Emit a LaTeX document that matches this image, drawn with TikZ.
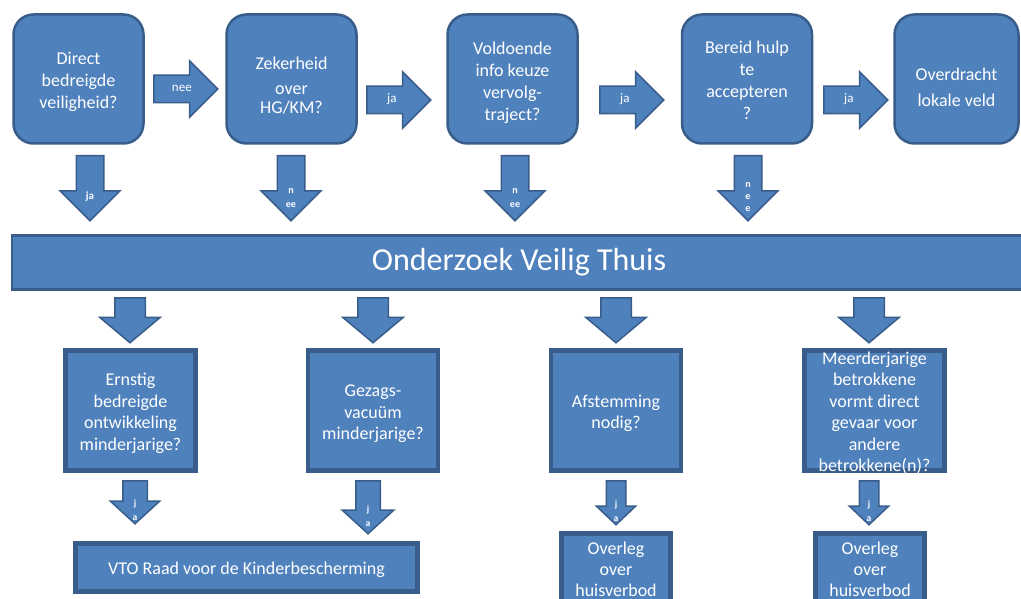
\documentclass[tikz,border=0pt]{standalone}
\usepackage{fontspec}
\setmainfont{Carlito}
\usetikzlibrary{shapes.arrows}

\definecolor{boxblue}{HTML}{4F81BD}
\definecolor{boxline}{HTML}{385D8A}

% centred lines of text, lowered by #1
\newcommand\tekst[2]{\makebox[0pt]{\raisebox{-#1}[0pt][0pt]{\begin{tabular}{@{}c@{}}#2\end{tabular}}}}
\tikzset{
	topbox/.style={draw=boxline,line width=2.5pt,fill=boxblue,rounded corners=20pt,minimum width=130pt,minimum height=129pt,text=white,font=\fontsize{18}{22}\selectfont},
	midbox/.style={draw=boxline,line width=4.5pt,fill=boxblue,minimum width=130pt,minimum height=120pt,text=white,font=\fontsize{18}{21.4}\selectfont},
	blockarrow/.style={single arrow,draw=boxline,line width=1.5pt,fill=boxblue,text=white,inner sep=0pt,anchor=tail,single arrow head indent=0pt},
	rightarrow/.style={blockarrow,inner ysep=13pt,minimum height=64pt,minimum width=55pt,single arrow head extend=14.5pt,single arrow tip angle=90,font=\fontsize{13}{14}\selectfont},
	downarrow/.style={blockarrow,shape border rotate=270,inner xsep=13pt,minimum height=65pt,minimum width=58pt,single arrow head extend=16pt,single arrow tip angle=90,font=\fontsize{10}{14}\bfseries},
	smallarrow/.style={downarrow,inner xsep=11.5pt,minimum height=43pt,minimum width=48pt,single arrow head extend=12.5pt,single arrow tip angle=95,font=\fontsize{9.5}{14}\bfseries},
}

\begin{document}
\begin{tikzpicture}[x=1pt,y=-1pt]
	\useasboundingbox (0,0) rectangle (1021,599);
	% top row
	\node (direct) at (78.5,79) [topbox] {\tekst{7.2pt}{Direct\\bedreigde\\veiligheid?}};
	\node (zekerheid) at (291.5,79) [topbox] {\tekst{12.7pt}{Zekerheid\\[3pt]over\\[-3pt]HG/KM?}};
	\node (voldoende) at (512.5,79) [topbox] {\tekst{8.2pt}{Voldoende\\info keuze\\vervolg-\\traject?}};
	\node (bereid) at (747,79) [topbox] {\tekst{7.7pt}{Bereid hulp\\te\\accepteren\\?}};
	\node (overdracht) at (956.5,79) [topbox,minimum width=124pt,font=\fontsize{18}{26}\selectfont] {\tekst{13.5pt}{Overdracht\\lokale veld}};

	\node (nee1) at (153,89) [rightarrow] {\tekst{3pt}{\hspace*{6pt}nee}};
	\node (ja1) at (366,100) [rightarrow] {\tekst{3pt}{ja}};
	\node (ja2) at (599,100) [rightarrow] {\tekst{3pt}{ja}};
	\node (ja3) at (823,100) [rightarrow] {\tekst{3pt}{ja}};

	\node (directja) at (90,155) [downarrow,font=\fontsize{11}{14}\bfseries] {\tekst{18.5pt}{ja}};
	\node (zekerheidnee) at (291,155) [downarrow] {\tekst{18.5pt}{n\\ee}};
	\node (voldoendenee) at (515,155) [downarrow] {\tekst{18.5pt}{n\\ee}};
	\node (bereidnee) at (748,155) [downarrow,font=\fontsize{10}{12}\bfseries] {\tekst{18.5pt}{n\\e\\e}};

	% onderzoek
	\node (onderzoek) at (519,262.5) [draw=boxline,line width=2.5pt,fill=boxblue,minimum width=1014pt,minimum height=54pt,text=white,font=\fontsize{32}{38}\selectfont] {Onderzoek Veilig Thuis};

	\node (pijl1) at (130,297) [downarrow,inner xsep=14.5pt,minimum height=45pt,minimum width=59pt,single arrow head extend=15pt,single arrow tip angle=100] {};
	\node (pijl2) at (373,297) [downarrow,inner xsep=14.5pt,minimum height=45pt,minimum width=59pt,single arrow head extend=15pt,single arrow tip angle=100] {};
	\node (pijl3) at (616,297) [downarrow,inner xsep=14.5pt,minimum height=45pt,minimum width=59pt,single arrow head extend=15pt,single arrow tip angle=100] {};
	\node (pijl4) at (869,297) [downarrow,inner xsep=14.5pt,minimum height=45pt,minimum width=59pt,single arrow head extend=15pt,single arrow tip angle=100] {};

	% questions
	\node (ernstig) at (130.5,410.5) [midbox] {\tekst{7.6pt}{Ernstig\\bedreigde\\ontwikkeling\\minderjarige?}};
	\node (gezag) at (373,410.5) [midbox] {\tekst{7.6pt}{Gezags-\\vacuüm\\minderjarige?}};
	\node (afstemming) at (616,410.5) [midbox] {\tekst{7.6pt}{Afstemming\\nodig?}};
	\node (meerderjarige) at (874.5,410.5) [midbox,minimum width=140pt] {\tekst{7.6pt}{Meerderjarige\\betrokkene\\vormt direct\\gevaar voor\\andere\\betrokkene(n)?}};

	\node (ernstigja) at (135,480) [smallarrow] {\tekst{16pt}{j\\a}};
	\node (gezagja) at (368,480) [smallarrow,minimum height=53pt,minimum width=50pt,single arrow head extend=13.5pt] {\tekst{17pt}{j\\a}};
	\node (afstemmingja) at (616,480) [smallarrow,inner xsep=9pt,minimum height=44pt,minimum width=38pt,single arrow head extend=10pt,single arrow tip angle=93] {\tekst{16pt}{j\\a}};
	\node (meerderjarigeja) at (869,480) [smallarrow,inner xsep=9pt,minimum height=44pt,minimum width=38pt,single arrow head extend=10pt,single arrow tip angle=93] {\tekst{16pt}{j\\a}};

	% outcomes
	\node (vto) at (246.5,567.5) [midbox,minimum width=342pt,minimum height=48pt] {\tekst{7.2pt}{VTO Raad voor de Kinderbescherming}};
	\node (overleg1) at (616,568) [midbox,minimum width=109pt,minimum height=69pt,font=\fontsize{18}{21}\selectfont] {\tekst{7.6pt}{Overleg\\over\\huisverbod}};
	\node (overleg2) at (870,568) [midbox,minimum width=109pt,minimum height=69pt,font=\fontsize{18}{21}\selectfont] {\tekst{7.6pt}{Overleg\\over\\huisverbod}};
\end{tikzpicture}
\end{document}
